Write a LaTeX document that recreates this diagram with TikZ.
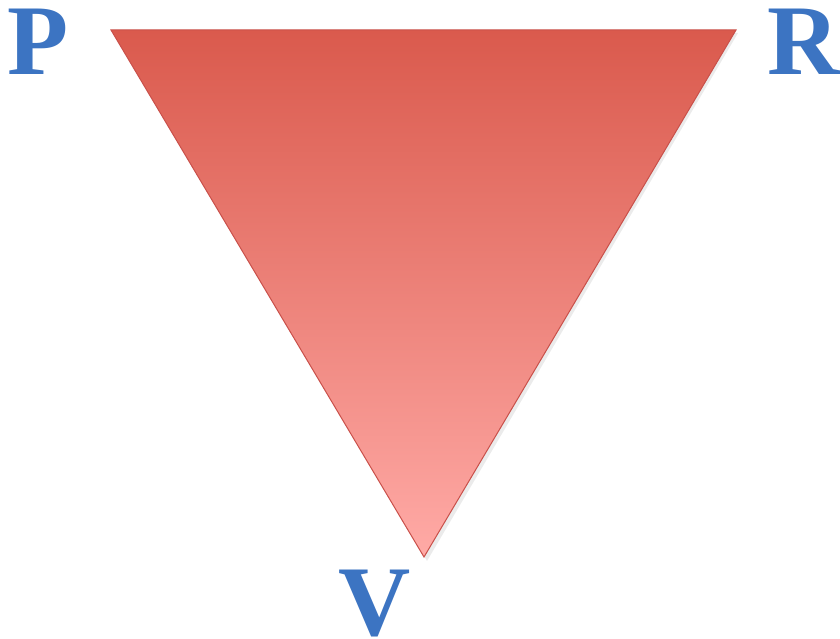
\documentclass[tikz,border=0pt]{standalone}
\usepackage{fontspec}
\setmainfont{Liberation Serif}
\definecolor{lettblue}{HTML}{3C74C2}
\definecolor{tritop}{HTML}{DA5A4D}
\definecolor{tribot}{HTML}{FFAAA6}
\definecolor{triedge}{HTML}{C9504A}
\tikzset{
  letter/.style={anchor=base, inner sep=0pt, text height=66pt, text depth=0pt, text=lettblue, font=\fontsize{100}{100}\selectfont\bfseries},
  tri/.style={top color=tritop, bottom color=tribot, draw=triedge, line width=1pt, line join=miter}
}
\begin{document}
\begin{tikzpicture}[x=1pt,y=1pt]
\useasboundingbox (0,0) rectangle (840,639);
\coordinate (pl) at (111,609);
\coordinate (pr) at (736,609);
\coordinate (pb) at (424,82);
\fill[black!8] (113,606) -- (738,606) -- (427,78) -- cycle;
\shade[tri] (pl) -- (pr) -- (pb) -- cycle;
\node[letter] (P) at (38,564) {P};
\node[letter] (R) at (804,564) {R};
\node[letter] (V) at (375,3) {V};
\end{tikzpicture}
\end{document}
